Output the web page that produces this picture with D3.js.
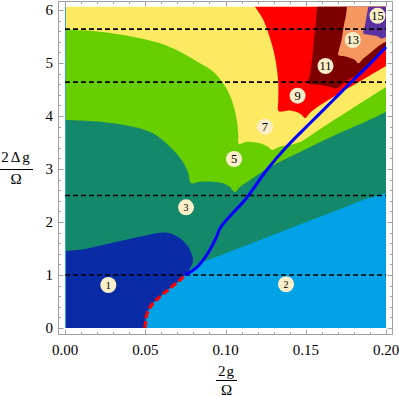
<!DOCTYPE html>
<html>
<head>
<meta charset="utf-8">
<script src="https://cdn.jsdelivr.net/npm/d3@7"></script>
<style>
body { margin: 0; background: #fff; }
svg { display: block; }
</style>
</head>
<body>
<script>
/* phase diagram, x = 2g/Omega, y = 2 Delta g/Omega */
var xTicks = [0, 0.05, 0.10, 0.15, 0.20];
var yTicks = [0, 1, 2, 3, 4, 5, 6];
var dashLevels = [1, 2.5, 4.64, 5.64];
var xMax = 0.2, yMax = 6.06;

// region boundaries, [x, y]
var top1 = [[0,1.45],[0.0114,1.485],[0.0322,1.628],[0.0488,1.736],[0.0592,1.798],[0.0654,1.787],
  [0.0717,1.692],[0.0754,1.585],[0.0779,1.472],[0.0796,1.321],[0.0796,1.245],[0.0779,1.126],
  [0.0758,1.032],[0.0748,1.0]];
var redDash = [[0.0498,0],[0.0502,0.12],[0.0509,0.245],[0.054,0.434],[0.0592,0.591],
  [0.0654,0.749],[0.0717,0.906],[0.0748,1.0]];
var top2 = [[0.0748,1.0],[0.0791,1.113],[0.0841,1.221],[0.0945,1.343],[0.1049,1.466],
  [0.1153,1.587],[0.1358,1.83],[0.1568,2.075],[0.1713,2.245],[0.1857,2.415],[0.2,2.547]];
var top3 = [[0,3.925],[0.0218,3.892],[0.0424,3.798],[0.0548,3.674],[0.0654,3.421],[0.0727,3.17],
  [0.0766,2.943],[0.0785,2.736],[0.0841,2.76],[0.0935,2.755],[0.0997,2.717],[0.1028,2.66],
  [0.1059,2.566],[0.109,2.66],[0.1153,2.792],[0.1277,3.038],[0.1464,3.32],[0.167,3.623],
  [0.1882,3.906],[0.2,4.075]];
var top5 = [[0,5.632],[0.0218,5.591],[0.0424,5.496],[0.0592,5.372],[0.0717,5.213],[0.0841,4.994],
  [0.0924,4.836],[0.0986,4.617],[0.1039,4.302],[0.107,3.925],[0.108,3.642],[0.1084,3.472],
  [0.1132,3.515],[0.1215,3.485],[0.1267,3.415],[0.129,3.358],[0.134,3.425],[0.1402,3.453],
  [0.1464,3.509],[0.1589,3.755],[0.1745,4.057],[0.2,4.547]];
var edge9 = [[0.1184,6.06],[0.1236,5.811],[0.1265,5.585],[0.129,5.34],[0.1308,5.119],[0.1321,4.868],
  [0.1329,4.617],[0.1329,4.302],[0.133,4.094],[0.1358,4.085],[0.1391,4.104],[0.1444,4.075],
  [0.1475,4.019],[0.1495,3.962],[0.1526,4.057],[0.1568,4.16],[0.1651,4.321],[0.1776,4.547],
  [0.19,4.766],[0.2,4.943]];
var edge11 = [[0.157,6.06],[0.1564,5.811],[0.1551,5.434],[0.1539,5.057],[0.1526,4.774],[0.1516,4.617],
  [0.1589,4.585],[0.1651,4.553],[0.1693,4.523],[0.1734,4.617],[0.1776,4.708],[0.1826,4.768],
  [0.19,4.981],[0.2,5.302]];
var edge13 = [[0.1757,6.06],[0.1751,5.906],[0.1738,5.717],[0.1723,5.434],[0.1707,5.245],[0.1703,5.151],
  [0.1755,5.119],[0.1807,5.057],[0.1827,4.994],[0.1859,5.085],[0.19,5.183],[0.1963,5.34],[0.2,5.402]];
var edge15 = [[0.189,6.06],[0.1875,5.811],[0.1866,5.66],[0.1859,5.56],[0.19,5.528],[0.1942,5.509],
  [0.1973,5.462],[0.2,5.491]];
var blueLine = [[0.0748,1.0],[0.0821,1.145],[0.0883,1.377],[0.0945,1.723],[0.0966,1.881],[0.104,2.151],
  [0.1121,2.415],[0.1257,2.981],[0.1381,3.421],[0.1526,3.862],[0.1672,4.302],[0.1796,4.679],
  [0.19,4.981],[0.2,5.302]];
var labelNames = ["1","2","3","5","7","9","11","13","15"];
var labelX = [0.027, 0.1377, 0.0754, 0.1053, 0.1246, 0.1449, 0.1623, 0.1793, 0.1947];
var labelY = [0.811, 0.825, 2.277, 3.189, 3.798, 4.383, 4.943, 5.434, 5.891];

var colors = {
  r1: "#0a2ba6", r2: "#02a3e6", r3: "#13886a", r5: "#67cf00", r7: "#fbea62",
  r9: "#ff0000", r11: "#7c0000", r13: "#f5975f", r15: "#5c31a0"
};

var W = 399, H = 396;
var serif = "'Liberation Serif', 'Times New Roman', 'DejaVu Serif', serif";
var x = d3.scaleLinear().domain([0, 0.2]).range([65, 386]);
var y = d3.scaleLinear().domain([0, 6]).range([328, 10]);

var svg = d3.select("body").append("svg").attr("width", W).attr("height", H)
  .attr("font-family", serif);

var smooth = d3.line().x(function(d){ return x(d[0]); }).y(function(d){ return y(d[1]); })
  .curve(d3.curveCatmullRom.alpha(0.5));

function area(edge, corners) {
  return smooth(edge) + corners.map(function(c){ return "L" + x(c[0]) + "," + y(c[1]); }).join("") + "Z";
}

var plot = svg.append("g");

// base (region 7)
plot.append("rect").attr("x", x(0)).attr("y", y(yMax))
  .attr("width", x(xMax) - x(0)).attr("height", y(0) - y(yMax)).attr("fill", colors.r7);

plot.append("path").attr("d", area(edge9, [[xMax, yMax]])).attr("fill", colors.r9);
plot.append("path").attr("d", area(edge11, [[xMax, yMax]])).attr("fill", colors.r11);
plot.append("path").attr("d", area(edge13, [[xMax, yMax]])).attr("fill", colors.r13);
plot.append("path").attr("d", area(edge15, [[xMax, yMax]])).attr("fill", colors.r15);
plot.append("path").attr("d", area(top5, [[xMax, 0], [0, 0]])).attr("fill", colors.r5);
plot.append("path").attr("d", area(top3, [[xMax, 0], [0, 0]])).attr("fill", colors.r3);
plot.append("path").attr("d", area(top1.concat(redDash.slice(0, -1).reverse()), [[0, 0]])).attr("fill", colors.r1);
plot.append("path").attr("d", area(redDash.concat(top2.slice(1)), [[xMax, 0]])).attr("fill", colors.r2);

// thin sliver at the left edge
plot.append("line").attr("x1", x(0) + 0.5).attr("x2", x(0) + 0.5).attr("y1", y(0)).attr("y2", y(yMax))
  .attr("stroke", "#35a9e2").attr("stroke-width", 1);

// horizontal dashed levels
plot.selectAll("line.lev").data(dashLevels).enter().append("line")
  .attr("class", "lev")
  .attr("x1", x(0)).attr("x2", x(xMax))
  .attr("y1", function(d){ return y(d); }).attr("y2", function(d){ return y(d); })
  .attr("stroke", "#000").attr("stroke-width", 1.7).attr("stroke-dasharray", "5,3");

// boundary lines
plot.append("path").attr("d", smooth(blueLine)).attr("fill", "none")
  .attr("stroke", "#0000ff").attr("stroke-width", 3);
plot.append("path").attr("d", smooth(redDash)).attr("fill", "none")
  .attr("stroke", "#ff0000").attr("stroke-width", 3.2).attr("stroke-dasharray", "7,3");

// region labels
var lab = plot.selectAll("g.lab").data(labelNames).enter().append("g").attr("class", "lab")
  .attr("transform", function(d, i){ return "translate(" + x(labelX[i]) + "," + y(labelY[i]) + ")"; });
lab.append("circle").attr("r", 8).attr("fill", "#faeec8");
lab.append("text").attr("text-anchor", "middle").attr("dy", "0.35em")
  .attr("font-size", function(d){ return (d === "2" || d === "3") ? 10 : (d === "1" ? 11 : 12.5); })
  .text(function(d){ return d; });

// frame and ticks
var fL = 58.5, fR = 392.5, fT = 1.5, fB = 334.5;
svg.append("rect").attr("x", fL).attr("y", fT).attr("width", fR - fL).attr("height", fB - fT)
  .attr("fill", "none").attr("stroke", "#a0a0a0").attr("stroke-width", 1);

var xMinor = d3.range(0, 0.2001, 0.01);
var yMinor = d3.range(0, 6.0001, 0.2);
var tickG = svg.append("g").attr("stroke", "#a0a0a0").attr("stroke-width", 1);
xMinor.forEach(function(v, i){
  var len = (i % 5 === 0) ? 5 : 2.5, px = Math.round(x(v)) + 0.5;
  tickG.append("line").attr("x1", px).attr("x2", px).attr("y1", fB).attr("y2", fB - len);
  tickG.append("line").attr("x1", px).attr("x2", px).attr("y1", fT).attr("y2", fT + len);
});
yMinor.forEach(function(v, i){
  var len = (i % 5 === 0) ? 5 : 2.5, py = Math.round(y(v)) + 0.5;
  tickG.append("line").attr("x1", fL).attr("x2", fL + len).attr("y1", py).attr("y2", py);
  tickG.append("line").attr("x1", fR).attr("x2", fR - len).attr("y1", py).attr("y2", py);
});

svg.selectAll("text.xt").data(xTicks).enter().append("text").attr("class", "xt")
  .attr("x", function(d){ return x(d); }).attr("y", 355)
  .attr("text-anchor", "middle").attr("font-size", 15)
  .text(function(d){ return d3.format(".2f")(d); });
svg.selectAll("text.yt").data(yTicks).enter().append("text").attr("class", "yt")
  .attr("x", 53).attr("y", function(d){ return y(d) + 5; })
  .attr("text-anchor", "end").attr("font-size", 15)
  .text(function(d){ return d; });

// axis titles as fractions
svg.append("text").attr("x", 226.5).attr("y", 376).attr("text-anchor", "middle")
  .attr("font-size", 15).attr("letter-spacing", 1).text("2g");
svg.append("line").attr("x1", 216).attr("x2", 237).attr("y1", 380.5).attr("y2", 380.5)
  .attr("stroke", "#000").attr("stroke-width", 1);
svg.append("text").attr("x", 226.5).attr("y", 394.5).attr("text-anchor", "middle")
  .attr("font-size", 15).text("Ω");

svg.append("text").attr("x", 16.5).attr("y", 162).attr("text-anchor", "middle")
  .attr("font-size", 15).attr("letter-spacing", 2).text("2Δg");
svg.append("line").attr("x1", 0).attr("x2", 33).attr("y1", 169.5).attr("y2", 169.5)
  .attr("stroke", "#000").attr("stroke-width", 1);
svg.append("text").attr("x", 16).attr("y", 184).attr("text-anchor", "middle")
  .attr("font-size", 15).text("Ω");
</script>
</body>
</html>
